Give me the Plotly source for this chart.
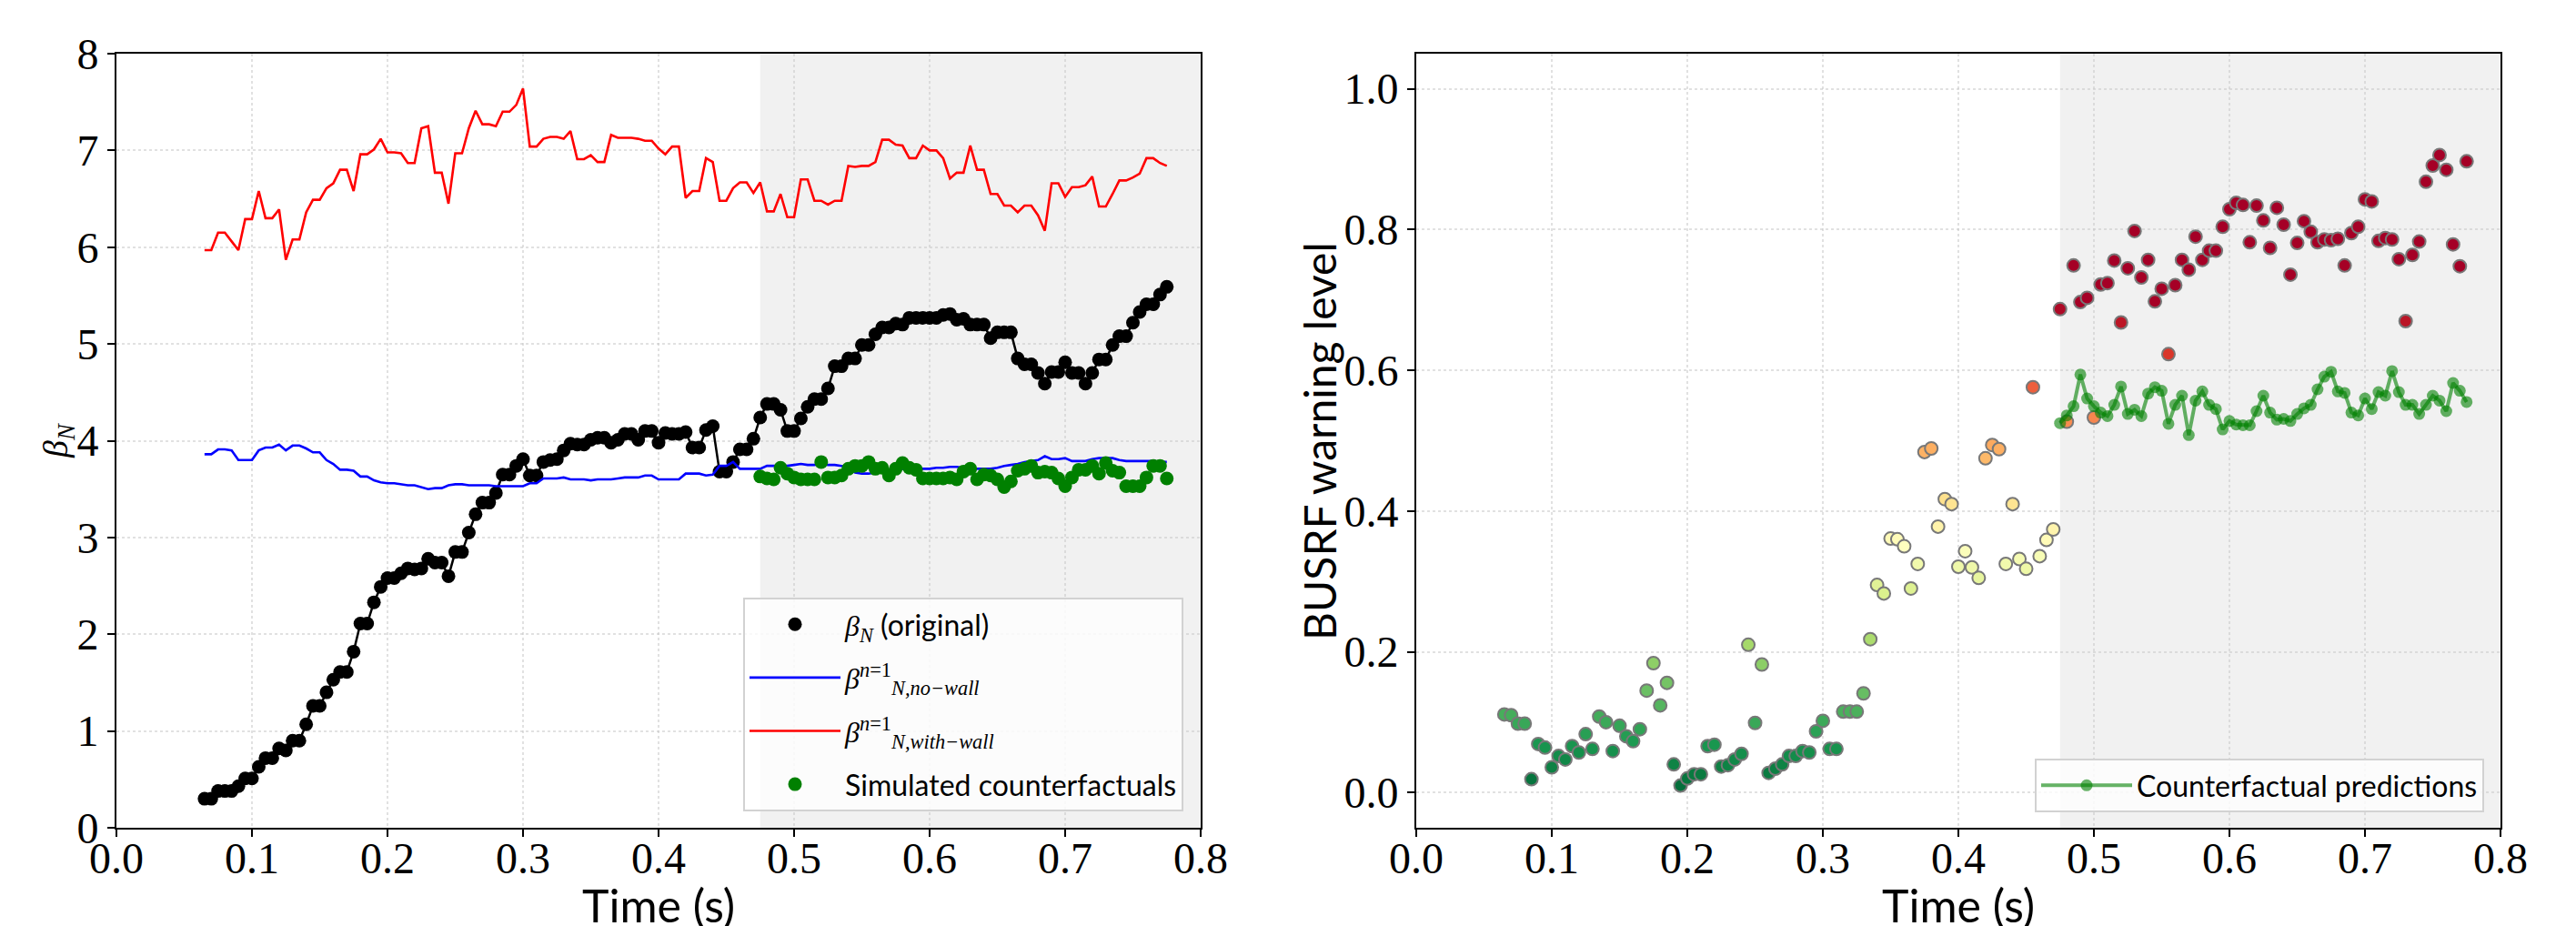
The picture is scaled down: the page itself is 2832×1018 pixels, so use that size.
import plotly.graph_objects as go

# ---------------- data ----------------
time_s = [
    0.065, 0.070, 0.075, 0.080, 0.085, 0.090, 0.095, 0.100, 0.105, 0.110,
    0.115, 0.120, 0.125, 0.130, 0.135, 0.140, 0.145, 0.150, 0.155, 0.160,
    0.165, 0.170, 0.175, 0.180, 0.185, 0.190, 0.195, 0.200, 0.205, 0.210,
    0.215, 0.220, 0.225, 0.230, 0.235, 0.240, 0.245, 0.250, 0.255, 0.260,
    0.265, 0.270, 0.275, 0.280, 0.285, 0.290, 0.295, 0.300, 0.305, 0.310,
    0.315, 0.320, 0.325, 0.330, 0.335, 0.340, 0.345, 0.350, 0.355, 0.360,
    0.365, 0.370, 0.375, 0.380, 0.385, 0.390, 0.395, 0.400, 0.405, 0.410,
    0.415, 0.420, 0.425, 0.430, 0.435, 0.440, 0.445, 0.450, 0.455, 0.460,
    0.465, 0.470, 0.475, 0.480, 0.485, 0.490, 0.495, 0.500, 0.505, 0.510,
    0.515, 0.520, 0.525, 0.530, 0.535, 0.540, 0.545, 0.550, 0.555, 0.560,
    0.565, 0.570, 0.575, 0.580, 0.585, 0.590, 0.595, 0.600, 0.605, 0.610,
    0.615, 0.620, 0.625, 0.630, 0.635, 0.640, 0.645, 0.650, 0.655, 0.660,
    0.665, 0.670, 0.675, 0.680, 0.685, 0.690, 0.695, 0.700, 0.705, 0.710,
    0.715, 0.720, 0.725, 0.730, 0.735, 0.740, 0.745, 0.750, 0.755, 0.760,
    0.765, 0.770, 0.775,
]

cf_time_s = [
    0.475, 0.480, 0.485, 0.490, 0.495, 0.500, 0.505, 0.510, 0.515, 0.520,
    0.525, 0.530, 0.535, 0.540, 0.545, 0.550, 0.555, 0.560, 0.565, 0.570,
    0.575, 0.580, 0.585, 0.590, 0.595, 0.600, 0.605, 0.610, 0.615, 0.620,
    0.625, 0.630, 0.635, 0.640, 0.645, 0.650, 0.655, 0.660, 0.665, 0.670,
    0.675, 0.680, 0.685, 0.690, 0.695, 0.700, 0.705, 0.710, 0.715, 0.720,
    0.725, 0.730, 0.735, 0.740, 0.745, 0.750, 0.755, 0.760, 0.765, 0.770,
    0.775,
]

beta_n_original = [
    0.30, 0.30, 0.38, 0.38, 0.38, 0.43, 0.51, 0.51, 0.63, 0.72,
    0.72, 0.82, 0.80, 0.90, 0.90, 1.07, 1.26, 1.26, 1.40, 1.53,
    1.61, 1.61, 1.82, 2.11, 2.11, 2.33, 2.49, 2.58, 2.58, 2.63,
    2.68, 2.67, 2.68, 2.78, 2.74, 2.74, 2.60, 2.85, 2.85, 3.05,
    3.24, 3.36, 3.36, 3.46, 3.65, 3.65, 3.74, 3.81, 3.64, 3.64,
    3.78, 3.80, 3.81, 3.90, 3.97, 3.96, 3.96, 4.01, 4.03, 4.03,
    3.98, 4.01, 4.07, 4.07, 4.01, 4.10, 4.10, 3.98, 4.08, 4.07,
    4.07, 4.09, 3.93, 3.93, 4.11, 4.15, 3.68, 3.68, 3.78, 3.91,
    3.91, 4.02, 4.24, 4.38, 4.38, 4.32, 4.10, 4.10,
    4.23, 4.35, 4.43, 4.43, 4.54, 4.77, 4.77, 4.85, 4.85, 4.99,
    4.99, 5.10, 5.17, 5.17, 5.21, 5.20, 5.27, 5.27, 5.27, 5.27,
    5.27, 5.30, 5.31, 5.25, 5.26, 5.20, 5.20, 5.20, 5.06, 5.12,
    5.12, 5.12, 4.85, 4.79, 4.79, 4.70, 4.59, 4.71, 4.71, 4.81,
    4.70, 4.70, 4.59, 4.70, 4.84, 4.84, 4.99, 5.08, 5.08, 5.22,
    5.33, 5.41, 5.41, 5.51, 5.59,
]

beta_no_wall = [
    3.86, 3.86, 3.91, 3.91, 3.90, 3.80, 3.80, 3.80, 3.90, 3.93,
    3.93, 3.96, 3.90, 3.95, 3.95, 3.92, 3.88, 3.88, 3.80, 3.76,
    3.70, 3.70, 3.69, 3.63, 3.63, 3.59, 3.57, 3.56, 3.56, 3.55,
    3.54, 3.54, 3.52, 3.50, 3.51, 3.51, 3.54, 3.55, 3.55, 3.54,
    3.54, 3.54, 3.54, 3.53, 3.53, 3.53, 3.53, 3.53, 3.56, 3.56,
    3.61, 3.61, 3.61, 3.62, 3.60, 3.60, 3.60, 3.59, 3.60, 3.60,
    3.60, 3.61, 3.62, 3.62, 3.62, 3.64, 3.64, 3.60, 3.60, 3.60,
    3.60, 3.66, 3.66, 3.66, 3.64, 3.65, 3.74, 3.74, 3.78, 3.71,
    3.71, 3.71, 3.71, 3.74, 3.74, 3.74, 3.74, 3.75,
    3.76, 3.75, 3.75, 3.76, 3.75, 3.75, 3.74, 3.72, 3.67, 3.66,
    3.66, 3.67, 3.69, 3.70, 3.70, 3.71, 3.71, 3.71, 3.71, 3.71,
    3.72, 3.72, 3.73, 3.73, 3.72, 3.71, 3.71, 3.71, 3.71, 3.72,
    3.74, 3.75, 3.76, 3.78, 3.79, 3.80, 3.84, 3.81, 3.81, 3.82,
    3.79, 3.79, 3.79, 3.81, 3.82, 3.82, 3.82, 3.80, 3.79, 3.79,
    3.79, 3.79, 3.79, 3.78, 3.78,
]

beta_with_wall = [
    5.97, 5.97, 6.15, 6.15, 6.06, 5.97, 6.29, 6.29, 6.58, 6.30,
    6.30, 6.39, 5.87, 6.08, 6.08, 6.36, 6.49, 6.49, 6.61, 6.66,
    6.80, 6.80, 6.58, 6.96, 6.96, 7.01, 7.12, 6.98, 6.98, 6.97,
    6.87, 6.87, 7.23, 7.25, 6.77, 6.77, 6.45, 6.97, 6.97, 7.23,
    7.41, 7.27, 7.27, 7.25, 7.40, 7.40, 7.47, 7.64, 7.04, 7.04,
    7.12, 7.14, 7.14, 7.12, 7.20, 6.91, 6.91, 6.95, 6.88, 6.88,
    7.16, 7.13, 7.13, 7.13, 7.12, 7.10, 7.10, 7.02, 6.96, 7.04,
    7.04, 6.51, 6.58, 6.58, 6.92, 6.88, 6.48, 6.48, 6.61, 6.67,
    6.67, 6.56, 6.67, 6.37, 6.37, 6.55, 6.31, 6.31,
    6.70, 6.70, 6.48, 6.48, 6.44, 6.48, 6.48, 6.84, 6.83, 6.84,
    6.84, 6.88, 7.11, 7.11, 7.06, 7.05, 6.92, 6.92, 7.05, 7.00,
    7.00, 6.92, 6.71, 6.77, 6.77, 7.05, 6.80, 6.80, 6.55, 6.55,
    6.43, 6.43, 6.36, 6.43, 6.43, 6.33, 6.17, 6.66, 6.66, 6.52,
    6.62, 6.62, 6.64, 6.73, 6.42, 6.42, 6.55, 6.69, 6.69, 6.72,
    6.76, 6.92, 6.92, 6.87, 6.84,
]

beta_counterfactual = [
    3.63, 3.61, 3.60, 3.72, 3.66, 3.62, 3.60, 3.60, 3.60, 3.78,
    3.62, 3.62, 3.64, 3.71, 3.74, 3.74, 3.78, 3.71, 3.72, 3.64,
    3.71, 3.77, 3.72, 3.70, 3.61, 3.61, 3.61, 3.61, 3.62, 3.60,
    3.68, 3.71, 3.60, 3.65, 3.64, 3.60, 3.52, 3.58, 3.69, 3.71,
    3.74, 3.67, 3.68, 3.67, 3.61, 3.53, 3.62, 3.70, 3.70, 3.74,
    3.66, 3.77, 3.69, 3.67, 3.53, 3.53, 3.53, 3.62, 3.74, 3.74,
    3.61,
]

warning_level = [
    0.111, 0.110, 0.098, 0.098, 0.019, 0.069, 0.064, 0.036, 0.052, 0.047,
    0.066, 0.057, 0.083, 0.062, 0.108, 0.100, 0.059, 0.095, 0.080, 0.073,
    0.090, 0.145, 0.184, 0.124, 0.156, 0.040, 0.010, 0.020, 0.026, 0.026,
    0.066, 0.068, 0.037, 0.039, 0.047, 0.055, 0.210, 0.099, 0.182, 0.028,
    0.034, 0.040, 0.052, 0.052, 0.059, 0.057, 0.087, 0.102, 0.062, 0.062,
    0.115, 0.115, 0.115, 0.141, 0.218,
    0.295, 0.283, 0.361, 0.360, 0.350, 0.290, 0.325, 0.484, 0.489, 0.378,
    0.417, 0.410, 0.321, 0.343, 0.320, 0.305, 0.475, 0.494, 0.488, 0.325,
    0.410, 0.332, 0.318, 0.576, 0.336, 0.359, 0.374,
    0.687, 0.527, 0.749, 0.697, 0.703, 0.533, 0.722, 0.724, 0.756, 0.668,
    0.745, 0.798, 0.732, 0.757, 0.698, 0.716, 0.623, 0.721, 0.757, 0.743,
    0.790, 0.757, 0.770, 0.770, 0.804, 0.829, 0.838, 0.835, 0.782, 0.834,
    0.813, 0.774, 0.831, 0.807, 0.736, 0.781, 0.812, 0.797, 0.782, 0.786,
    0.785, 0.787, 0.749, 0.795, 0.804, 0.843, 0.840, 0.784, 0.788, 0.786,
    0.758, 0.670, 0.764, 0.783, 0.868, 0.891, 0.906, 0.885, 0.779, 0.748,
    0.897,
]

counterfactual_prediction = [
    0.525, 0.536, 0.549, 0.594, 0.560, 0.549, 0.540, 0.535, 0.551, 0.577,
    0.538, 0.544, 0.535, 0.567, 0.576, 0.571, 0.524, 0.551, 0.564, 0.508,
    0.557, 0.570, 0.551, 0.545, 0.516, 0.528, 0.523, 0.522, 0.522, 0.542,
    0.564, 0.540, 0.530, 0.531, 0.528, 0.538, 0.546, 0.551, 0.573, 0.591,
    0.598, 0.570, 0.568, 0.540, 0.536, 0.560, 0.545, 0.569, 0.564, 0.599,
    0.569, 0.551, 0.551, 0.538, 0.551, 0.564, 0.557, 0.542, 0.582, 0.571,
    0.555,
]

shade_start = 0.475
x_ticks = [0.0, 0.1, 0.2, 0.3, 0.4, 0.5, 0.6, 0.7, 0.8]
y1_ticks = [0, 1, 2, 3, 4, 5, 6, 7, 8]
y2_ticks = [0.0, 0.2, 0.4, 0.6, 0.8, 1.0]

# ---------------- figure ----------------
# The page body adds an 8 px margin, so layout pixels are shifted by OFF.
W, H = 2832, 1018
OFF = 8
AX_L1, AX_R1, AX_L2, AX_R2, AX_T, AX_B = 128, 1320, 1557, 2749, 59, 910  # page px
ML = AX_L1 - OFF
MR = W - (AX_R2 - OFF)
MT = AX_T - OFF
MB = H - (AX_B - OFF)
PW = W - ML - MR
PH = H - MT - MB


def px_x(p):
    return (p - OFF - ML) / PW


def px_y(p):
    return (H - MB - (p - OFF)) / PH


SERIF = "Liberation Serif"
SANS = "Lato"

fig = go.Figure()

# left panel
fig.add_trace(go.Scatter(
    x=time_s, y=beta_n_original, mode="lines",
    line=dict(color="black", width=2.5), showlegend=False,
    xaxis="x", yaxis="y", hoverinfo="skip"))
fig.add_trace(go.Scatter(
    x=time_s, y=beta_n_original, mode="markers",
    marker=dict(color="black", size=15),
    name='<span style="font-family:Liberation Serif"><i>β</i><sub><i>N</i></sub></span> (original)',
    legend="legend", legendgroup="g1", xaxis="x", yaxis="y"))
fig.add_trace(go.Scatter(
    x=time_s, y=beta_no_wall, mode="lines",
    line=dict(color="blue", width=2.6),
    name='<span style="font-family:Liberation Serif"><i>β</i><sup><i>n</i>=1</sup><sub><i>N,no−wall</i></sub></span>',
    legend="legend", legendgroup="g2", xaxis="x", yaxis="y"))
fig.add_trace(go.Scatter(
    x=time_s, y=beta_with_wall, mode="lines",
    line=dict(color="red", width=2.6),
    name='<span style="font-family:Liberation Serif"><i>β</i><sup><i>n</i>=1</sup><sub><i>N,with−wall</i></sub></span>',
    legend="legend", legendgroup="g3", xaxis="x", yaxis="y"))
fig.add_trace(go.Scatter(
    x=cf_time_s, y=beta_counterfactual, mode="markers",
    marker=dict(color="green", size=15),
    name="Simulated counterfactuals",
    legend="legend", legendgroup="g4", xaxis="x", yaxis="y"))

# right panel
fig.add_trace(go.Scatter(
    x=time_s, y=warning_level, mode="markers",
    marker=dict(color=warning_level, colorscale="RdYlGn_r", cmin=0.0, cmax=0.7,
                size=14, line=dict(color="rgb(120,120,120)", width=2)),
    showlegend=False, xaxis="x2", yaxis="y2"))
fig.add_trace(go.Scatter(
    x=cf_time_s, y=counterfactual_prediction, mode="lines+markers",
    line=dict(color="rgba(0,128,0,0.6)", width=4),
    marker=dict(color="rgba(0,128,0,0.6)", size=13),
    name="Counterfactual predictions",
    legend="legend2", xaxis="x2", yaxis="y2"))

d1 = [0, px_x(AX_R1)]
d2 = [px_x(AX_L2), 1]

axis_common = dict(
    showline=True, mirror=True, linecolor="black", linewidth=2,
    ticks="outside", ticklen=8, tickwidth=2, tickcolor="black",
    showgrid=True, gridcolor="rgba(200,200,200,0.55)", griddash="dot", gridwidth=1.5,
    zeroline=False, tickfont=dict(family=SERIF, size=48, color="black"),
    automargin=False,
)

title_font = dict(family=SANS, size=50, color="black")

fig.update_layout(
    width=W, height=H,
    margin=dict(l=ML, r=MR, t=MT, b=MB),
    paper_bgcolor="white", plot_bgcolor="white",
    xaxis=dict(domain=d1, range=[0, 0.8], tickvals=x_ticks, tickformat=".1f",
               anchor="y", ticklabelstandoff=-18, **axis_common),
    yaxis=dict(domain=[0, 1], range=[0, 8], tickvals=y1_ticks,
               anchor="x", **axis_common),
    xaxis2=dict(domain=d2, range=[0, 0.8], tickvals=x_ticks, tickformat=".1f",
                anchor="y2", ticklabelstandoff=-18, **axis_common),
    yaxis2=dict(domain=[0, 1], range=[-0.05, 1.05], tickvals=y2_ticks, tickformat=".1f",
                anchor="x2", **axis_common),
    legend=dict(x=px_x(1301), y=px_y(892), xanchor="right", yanchor="bottom",
                bgcolor="rgba(255,255,255,0.8)", bordercolor="rgb(210,210,210)", borderwidth=2,
                font=dict(family=SANS, size=32, color="black"), tracegroupgap=14,
                itemwidth=100),
    legend2=dict(x=px_x(2731), y=px_y(893), xanchor="right", yanchor="bottom",
                 bgcolor="rgba(255,255,255,0.8)", bordercolor="rgb(210,210,210)", borderwidth=2,
                 font=dict(family=SANS, size=32, color="black"), itemwidth=100),
    shapes=[
        dict(type="rect", xref="x", yref="y domain", x0=shade_start, x1=0.8, y0=0, y1=1,
             fillcolor="rgba(211,211,211,0.32)", line=dict(width=0), layer="below"),
        dict(type="rect", xref="x2", yref="y2 domain", x0=shade_start, x1=0.8, y0=0, y1=1,
             fillcolor="rgba(211,211,211,0.32)", line=dict(width=0), layer="below"),
    ],
    annotations=[
        dict(text="Time (s)", xref="paper", yref="paper", x=px_x(724), y=px_y(995),
             xanchor="center", yanchor="middle", showarrow=False, font=title_font),
        dict(text="Time (s)", xref="paper", yref="paper", x=px_x(2153), y=px_y(995),
             xanchor="center", yanchor="middle", showarrow=False, font=title_font),
        dict(text="<i>β</i><sub><i>N</i></sub>", xref="paper", yref="paper",
             x=px_x(64), y=px_y(485), xanchor="center", yanchor="middle", textangle=-90,
             showarrow=False, font=dict(family=SERIF, size=38, color="black")),
        dict(text="BUSRF warning level", xref="paper", yref="paper",
             x=px_x(1450), y=px_y(485), xanchor="center", yanchor="middle", textangle=-90,
             showarrow=False, font=dict(family=SANS, size=48, color="black")),
    ],
)

fig.write_html("out.html")
